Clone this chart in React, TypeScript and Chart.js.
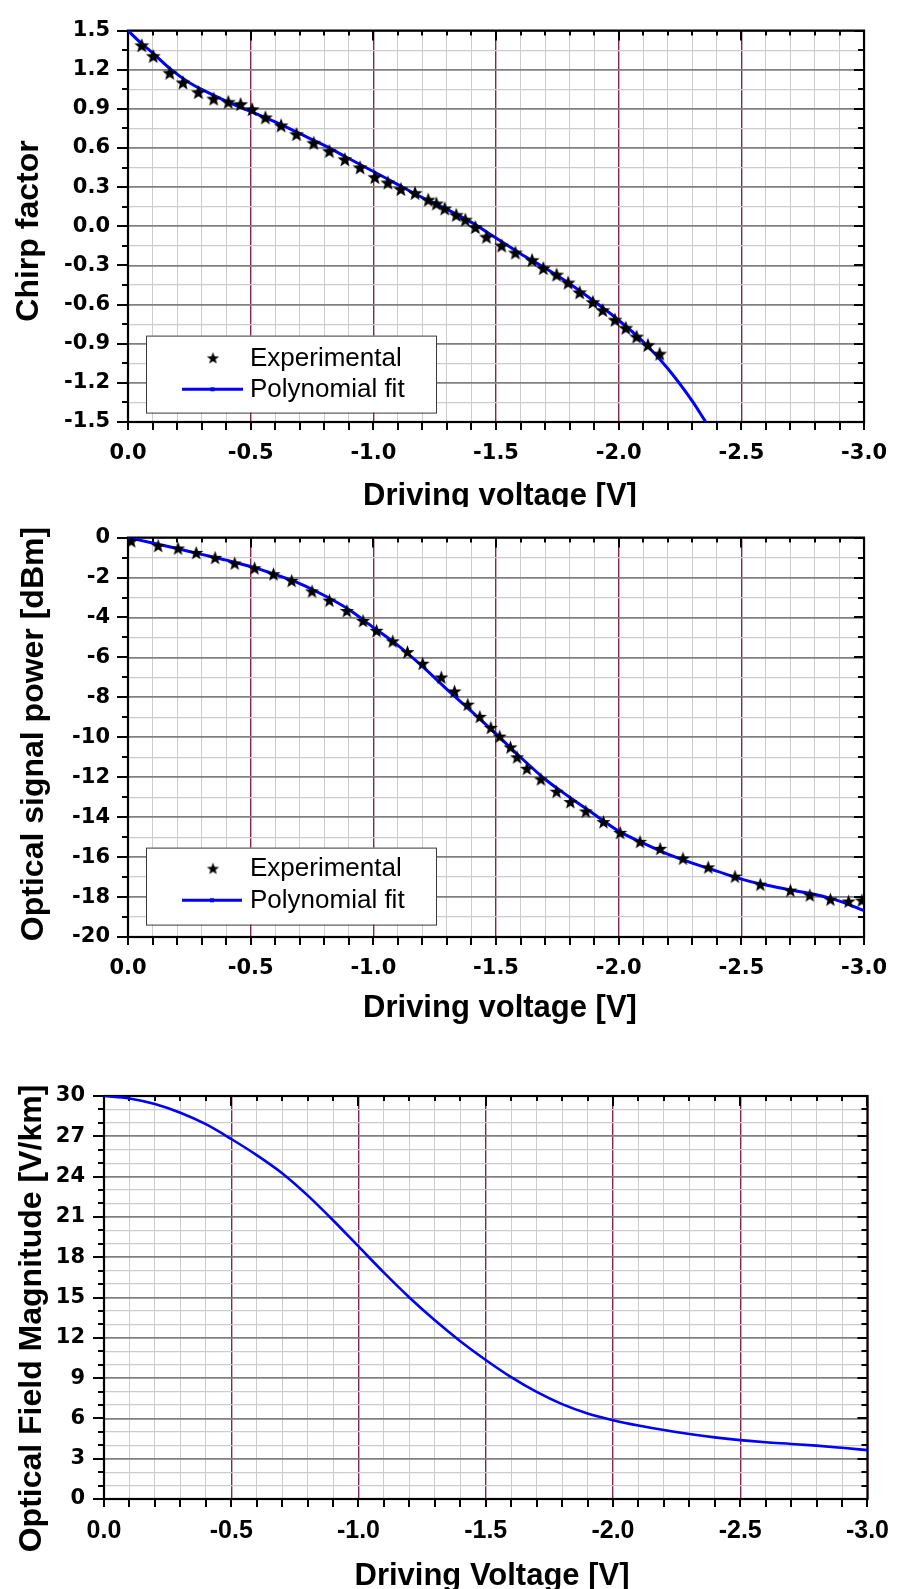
import React, { useEffect, useRef } from 'react';
import { Chart, registerables } from 'chart.js';

Chart.register(...registerables);

// ---------------- Data ----------------
const xMajorTicks = [0, -0.5, -1, -1.5, -2, -2.5, -3];
const xTickLabels = ['0.0', '-0.5', '-1.0', '-1.5', '-2.0', '-2.5', '-3.0'];

const chirpYTicks = [1.5, 1.2, 0.9, 0.6, 0.3, 0, -0.3, -0.6, -0.9, -1.2, -1.5];
const chirpYLabels = ['1.5', '1.2', '0.9', '0.6', '0.3', '0.0', '-0.3', '-0.6', '-0.9', '-1.2', '-1.5'];

const chirpExpVoltage = [-0.056, -0.103, -0.170, -0.224, -0.287, -0.349, -0.409, -0.459, -0.506, -0.560, -0.624, -0.687, -0.757, -0.821, -0.884, -0.946, -1.006, -1.059, -1.112, -1.170, -1.224, -1.257, -1.291, -1.338, -1.375, -1.416, -1.461, -1.523, -1.579, -1.647, -1.693, -1.747, -1.794, -1.841, -1.895, -1.935, -1.985, -2.029, -2.073, -2.119, -2.167];
const chirpExpValues = [1.389, 1.307, 1.178, 1.104, 1.030, 0.980, 0.955, 0.938, 0.899, 0.836, 0.775, 0.708, 0.641, 0.579, 0.515, 0.453, 0.379, 0.337, 0.287, 0.257, 0.205, 0.176, 0.138, 0.089, 0.052, -0.005, -0.079, -0.146, -0.200, -0.257, -0.319, -0.369, -0.430, -0.505, -0.579, -0.641, -0.715, -0.777, -0.844, -0.908, -0.975];

const chirpFitVoltage = [0, -0.05, -0.1, -0.17, -0.25, -0.3, -0.4, -0.5, -0.6, -0.7, -0.8, -0.9, -1.0, -1.1, -1.2, -1.3, -1.4, -1.5, -1.6, -1.7, -1.8, -1.9, -2.0, -2.1, -2.2, -2.3, -2.355];
const chirpFitValues = [1.5, 1.41, 1.33, 1.21, 1.10, 1.05, 0.96, 0.88, 0.80, 0.71, 0.62, 0.52, 0.42, 0.32, 0.22, 0.13, 0.03, -0.09, -0.21, -0.32, -0.44, -0.575, -0.72, -0.885, -1.09, -1.34, -1.5];

const powerYTicks = [0, -2, -4, -6, -8, -10, -12, -14, -16, -18, -20];
const powerYLabels = ['0', '-2', '-4', '-6', '-8', '-10', '-12', '-14', '-16', '-18', '-20'];

const powerExpVoltage = [-0.013, -0.123, -0.204, -0.278, -0.355, -0.435, -0.516, -0.593, -0.667, -0.750, -0.821, -0.892, -0.958, -1.013, -1.079, -1.139, -1.201, -1.277, -1.331, -1.385, -1.434, -1.479, -1.515, -1.559, -1.586, -1.626, -1.683, -1.747, -1.803, -1.866, -1.938, -2.006, -2.087, -2.169, -2.262, -2.365, -2.474, -2.577, -2.700, -2.779, -2.863, -2.937, -2.991];
const powerExpValues = [-0.16, -0.39, -0.52, -0.74, -0.99, -1.27, -1.51, -1.81, -2.14, -2.67, -3.13, -3.65, -4.15, -4.64, -5.17, -5.71, -6.29, -6.98, -7.68, -8.34, -8.95, -9.50, -9.94, -10.48, -10.98, -11.55, -12.08, -12.70, -13.22, -13.69, -14.22, -14.76, -15.21, -15.56, -16.05, -16.49, -16.95, -17.35, -17.65, -17.89, -18.10, -18.20, -18.15];

const powerFitVoltage = [0, -0.1, -0.2, -0.3, -0.4, -0.5, -0.6, -0.7, -0.8, -0.9, -1.0, -1.1, -1.2, -1.3, -1.4, -1.5, -1.6, -1.7, -1.8, -1.9, -2.0, -2.1, -2.2, -2.3, -2.4, -2.5, -2.6, -2.7, -2.8, -2.9, -3.0];
const powerFitValues = [0, -0.27, -0.55, -0.84, -1.13, -1.45, -1.85, -2.3, -2.9, -3.6, -4.5, -5.4, -6.45, -7.6, -8.7, -9.83, -11.0, -12.1, -13.0, -13.85, -14.7, -15.3, -15.85, -16.3, -16.7, -17.1, -17.4, -17.65, -17.87, -18.2, -18.68];

const fieldYTicks = [0, 3, 6, 9, 12, 15, 18, 21, 24, 27, 30];
const fieldYLabels = ['0', '3', '6', '9', '12', '15', '18', '21', '24', '27', '30'];

const fieldVoltage = [0, -0.1, -0.2, -0.3, -0.4, -0.5, -0.6, -0.7, -0.8, -0.9, -1.0, -1.1, -1.2, -1.3, -1.4, -1.5, -1.6, -1.7, -1.8, -1.9, -2.0, -2.1, -2.2, -2.3, -2.4, -2.5, -2.6, -2.7, -2.8, -2.9, -3.0];
const fieldValues = [30, 29.82, 29.4, 28.75, 27.9, 26.8, 25.6, 24.25, 22.6, 20.75, 18.8, 16.85, 15.0, 13.3, 11.75, 10.35, 9.07, 7.97, 7.06, 6.37, 5.87, 5.47, 5.13, 4.84, 4.59, 4.38, 4.22, 4.1, 3.97, 3.81, 3.64];

const seriesNames = ['Experimental', 'Polynomial fit'];
const chirpTitles = { x: 'Driving voltage [V]', y: 'Chirp factor' };
const powerTitles = { x: 'Driving voltage [V]', y: 'Optical signal power [dBm]' };
const fieldTitles = { x: 'Driving Voltage [V]', y: 'Optical Field Magnitude [V/km]' };

// ---------------- Styling helpers ----------------
const W = 906;
const BLUE = '#0000ff';
const XMAJOR_GRID = '#86234e';
const MINOR_GRID = '#cccccc';
const YMAJOR_GRID = '#808080';

function subdivide(majors: number[], parts: number): number[] {
  const out: number[] = [];
  for (let i = 0; i < majors.length - 1; i++) {
    const a = majors[i];
    const b = majors[i + 1];
    for (let k = 0; k < parts; k++) out.push(+(a + ((b - a) * k) / parts).toFixed(6));
  }
  out.push(majors[majors.length - 1]);
  return out;
}

function isMajor(v: number, majors: number[]) {
  return majors.some((m) => Math.abs(m - v) < 1e-6);
}

function labelFor(v: number, majors: number[], labels: string[]) {
  const i = majors.findIndex((m) => Math.abs(m - v) < 1e-6);
  return i >= 0 ? labels[i] : '';
}

function pts(xs: number[], ys: number[]) {
  return xs.map((x, i) => ({ x, y: ys[i] }));
}

function makeStar(r: number, inner: number): HTMLCanvasElement {
  const size = Math.ceil(r * 2) + 2;
  const c = document.createElement('canvas');
  c.width = size;
  c.height = size;
  const g = c.getContext('2d')!;
  g.fillStyle = '#000';
  g.beginPath();
  for (let i = 0; i < 10; i++) {
    const ang = -Math.PI / 2 + (i * Math.PI) / 5;
    const rr = i % 2 === 0 ? r : inner;
    const px = size / 2 + rr * Math.cos(ang);
    const py = size / 2 + 0.9 + rr * Math.sin(ang);
    if (i === 0) g.moveTo(px, py);
    else g.lineTo(px, py);
  }
  g.closePath();
  g.fill();
  return c;
}

interface ChartSpec {
  id: string;
  canvasH: number;
  area: { left: number; top: number; right: number; bottom: number };
  datasets: any[];
  yMajors: number[];
  yLabels: string[];
  ySub: number;
  yMin: number;
  yMax: number;
  xTickFont: any;
  yTickFont: any;
  xPad: number;
  yPad: number;
  titles: { x: string; y: string };
  xTitlePos: { x: number; y: number };
  yTitlePos: { x: number; y: number };
  legend?: { star: HTMLCanvasElement; box: number[]; starPos: number[]; textX: number; lineY: number; lineX: number[] };
}

function makeDecor(spec: ChartSpec, xAll: number[], yAll: number[]) {
  return {
    id: 'decor_' + spec.id,
    beforeDatasetsDraw(chart: any) {
      const ctx = chart.ctx;
      const { left, top, right, bottom } = chart.chartArea;
      const xs = chart.scales.x;
      const ys = chart.scales.y;
      ctx.save();
      ctx.strokeStyle = '#000';
      ctx.lineWidth = 2;
      ctx.lineCap = 'butt';
      ctx.beginPath();
      xAll.forEach((v) => {
        const px = Math.round(xs.getPixelForValue(v));
        const maj = isMajor(v, xMajorTicks);
        ctx.moveTo(px, bottom);
        ctx.lineTo(px, bottom + 8);
        ctx.moveTo(px, top);
        ctx.lineTo(px, top + (maj ? 10 : 5));
      });
      yAll.forEach((v) => {
        const py = Math.round(ys.getPixelForValue(v));
        const maj = isMajor(v, spec.yMajors);
        ctx.moveTo(left, py);
        ctx.lineTo(left - (maj ? 11 : 6), py);
        ctx.moveTo(right, py);
        ctx.lineTo(right - (maj ? 10 : 6), py);
      });
      ctx.stroke();
      ctx.lineWidth = 2.2;
      ctx.strokeRect(left, top, right - left, bottom - top);
      ctx.restore();
    },
    afterDatasetsDraw(chart: any) {
      const lg = spec.legend;
      if (!lg) return;
      const ctx = chart.ctx;
      const { left, top } = chart.chartArea;
      ctx.save();
      ctx.fillStyle = '#fff';
      ctx.fillRect(left + lg.box[0], top + lg.box[1], lg.box[2], lg.box[3]);
      ctx.strokeStyle = '#3a3a3a';
      ctx.lineWidth = 1;
      ctx.strokeRect(left + lg.box[0] + 0.5, top + lg.box[1] + 0.5, lg.box[2], lg.box[3]);
      const s = lg.star;
      ctx.drawImage(s, left + lg.starPos[0] - s.width / 2, top + lg.starPos[1] - s.height / 2);
      ctx.strokeStyle = BLUE;
      ctx.lineWidth = 3;
      ctx.beginPath();
      ctx.moveTo(left + lg.lineX[0], top + lg.lineY);
      ctx.lineTo(left + lg.lineX[1], top + lg.lineY);
      ctx.stroke();
      ctx.fillStyle = BLUE;
      const mx = left + (lg.lineX[0] + lg.lineX[1]) / 2;
      ctx.fillRect(mx - 2, top + lg.lineY - 2, 4, 4);
      ctx.fillStyle = '#000';
      ctx.font = '26px "Liberation Sans", Arial, sans-serif';
      ctx.textAlign = 'left';
      ctx.textBaseline = 'middle';
      ctx.fillText(seriesNames[0], left + lg.textX, top + lg.starPos[1] + 1);
      ctx.fillText(seriesNames[1], left + lg.textX, top + lg.lineY + 1);
      ctx.restore();
    },
    afterDraw(chart: any) {
      const ctx = chart.ctx;
      ctx.save();
      ctx.fillStyle = '#000';
      ctx.textAlign = 'center';
      ctx.textBaseline = 'alphabetic';
      ctx.font = 'bold 31px "Liberation Sans", Arial, sans-serif';
      ctx.fillText(spec.titles.x, spec.xTitlePos.x, spec.xTitlePos.y);
      ctx.translate(spec.yTitlePos.x, spec.yTitlePos.y);
      ctx.rotate(-Math.PI / 2);
      ctx.font = 'bold 32px "Liberation Sans", Arial, sans-serif';
      ctx.fillText(spec.titles.y, 0, 0);
      ctx.restore();
    },
  };
}

function makeConfig(spec: ChartSpec): any {
  const xAll = subdivide(xMajorTicks, 5);
  const yAll = subdivide(spec.yMajors, spec.ySub);
  const { area, canvasH } = spec;
  return {
    type: 'scatter',
    data: { datasets: spec.datasets },
    options: {
      animation: false,
      responsive: false,
      maintainAspectRatio: false,
      events: [],
      layout: { padding: { left: 0, top: area.top, right: W - area.right, bottom: 0 } },
      plugins: { legend: { display: false }, tooltip: { enabled: false }, title: { display: false } },
      scales: {
        x: {
          type: 'linear',
          reverse: true,
          min: -3,
          max: 0,
          afterBuildTicks: (s: any) => {
            s.ticks = xAll.map((v) => ({ value: v }));
          },
          afterFit: (s: any) => {
            s.height = canvasH - area.bottom;
          },
          ticks: {
            autoSkip: false,
            maxRotation: 0,
            minRotation: 0,
            padding: spec.xPad,
            color: '#000',
            font: spec.xTickFont,
            callback: (v: number) => labelFor(v, xMajorTicks, xTickLabels),
          },
          grid: {
            drawTicks: false,
            color: (c: any) => (c.tick && isMajor(c.tick.value, xMajorTicks) ? XMAJOR_GRID : MINOR_GRID),
            lineWidth: (c: any) => (c.tick && isMajor(c.tick.value, xMajorTicks) ? 1.4 : 1),
          },
          border: { display: false },
        },
        y: {
          type: 'linear',
          min: spec.yMin,
          max: spec.yMax,
          afterBuildTicks: (s: any) => {
            s.ticks = yAll.map((v) => ({ value: v }));
          },
          afterFit: (s: any) => {
            s.width = area.left;
          },
          ticks: {
            autoSkip: false,
            padding: spec.yPad,
            color: '#000',
            font: spec.yTickFont,
            callback: (v: number) => labelFor(v, spec.yMajors, spec.yLabels),
          },
          grid: {
            drawTicks: false,
            color: (c: any) => (c.tick && isMajor(c.tick.value, spec.yMajors) ? YMAJOR_GRID : MINOR_GRID),
            lineWidth: (c: any) => (c.tick && isMajor(c.tick.value, spec.yMajors) ? 1.8 : 1.2),
          },
          border: { display: false },
        },
      },
    },
    plugins: [makeDecor(spec, xAll, yAll)],
  };
}

const dejaBold = { family: '"DejaVu Sans", sans-serif', weight: 'bold', size: 21 };
const libBold = { family: '"Liberation Sans", Arial, sans-serif', weight: 'bold', size: 25 };

export default function App() {
  const r1 = useRef<HTMLCanvasElement>(null);
  const r2 = useRef<HTMLCanvasElement>(null);
  const r3 = useRef<HTMLCanvasElement>(null);

  useEffect(() => {
    const star1 = makeStar(7.8, 3.3);
    const star2 = makeStar(7.4, 3.1);
    const starLeg = makeStar(6.4, 2.7);

    const fitStyle = {
      showLine: true,
      borderColor: BLUE,
      backgroundColor: BLUE,
      borderWidth: 3,
      pointRadius: 0,
      cubicInterpolationMode: 'monotone',
    };

    const spec1: ChartSpec = {
      id: 'chirp',
      canvasH: 507,
      area: { left: 128, top: 18, right: 873, bottom: 422 },
      datasets: [
        { label: seriesNames[1], data: pts(chirpFitVoltage, chirpFitValues), ...fitStyle, order: 2 },
        { label: seriesNames[0], data: pts(chirpExpVoltage, chirpExpValues), pointStyle: star1, pointRadius: 8, showLine: false, order: 1 },
      ],
      yMajors: chirpYTicks,
      yLabels: chirpYLabels,
      ySub: 2,
      yMin: -1.5,
      yMax: 1.5,
      xTickFont: dejaBold,
      yTickFont: dejaBold,
      xPad: 19,
      yPad: 18,
      titles: chirpTitles,
      xTitlePos: { x: 500, y: 505 },
      yTitlePos: { x: 38, y: 231 },
      legend: { star: starLeg, box: [18, 305, 290, 77], starPos: [85, 327], textX: 122, lineY: 358.7, lineX: [54, 115] },
    };

    const spec2: ChartSpec = {
      id: 'power',
      canvasH: 528,
      area: { left: 128, top: 26, right: 873, bottom: 430 },
      datasets: [
        { label: seriesNames[1], data: pts(powerFitVoltage, powerFitValues), ...fitStyle, order: 2 },
        { label: seriesNames[0], data: pts(powerExpVoltage, powerExpValues), pointStyle: star2, pointRadius: 8, showLine: false, order: 1 },
      ],
      yMajors: powerYTicks,
      yLabels: powerYLabels,
      ySub: 2,
      yMin: -20,
      yMax: 0,
      xTickFont: dejaBold,
      yTickFont: dejaBold,
      xPad: 19,
      yPad: 18,
      titles: powerTitles,
      xTitlePos: { x: 500, y: 510 },
      yTitlePos: { x: 43, y: 227 },
      legend: { star: starLeg, box: [18, 310, 290, 77], starPos: [85, 330.5], textX: 122, lineY: 362.7, lineX: [54, 114] },
    };

    const spec3: ChartSpec = {
      id: 'field',
      canvasH: 554,
      area: { left: 104, top: 61, right: 880, bottom: 464 },
      datasets: [
        { label: 'Optical Field Magnitude', data: pts(fieldVoltage, fieldValues), ...fitStyle, borderWidth: 2.6 },
      ],
      yMajors: fieldYTicks,
      yLabels: fieldYLabels,
      ySub: 3,
      yMin: 0,
      yMax: 30,
      xTickFont: libBold,
      yTickFont: dejaBold,
      xPad: 17,
      yPad: 19,
      titles: fieldTitles,
      xTitlePos: { x: 492, y: 550 },
      yTitlePos: { x: 40.5, y: 283.5 },
    };

    const charts = [
      new Chart(r1.current!, makeConfig(spec1)),
      new Chart(r2.current!, makeConfig(spec2)),
      new Chart(r3.current!, makeConfig(spec3)),
    ];
    return () => charts.forEach((c) => c.destroy());
  }, []);

  return (
    <div style={{ position: 'absolute', left: 0, top: 0, width: W, height: 1589, background: '#fff', overflow: 'hidden' }}>
      <canvas ref={r1} width={W} height={507} style={{ position: 'absolute', left: 0, top: 0 }} />
      <canvas ref={r2} width={W} height={528} style={{ position: 'absolute', left: 0, top: 507 }} />
      <canvas ref={r3} width={W} height={554} style={{ position: 'absolute', left: 0, top: 1035 }} />
    </div>
  );
}
